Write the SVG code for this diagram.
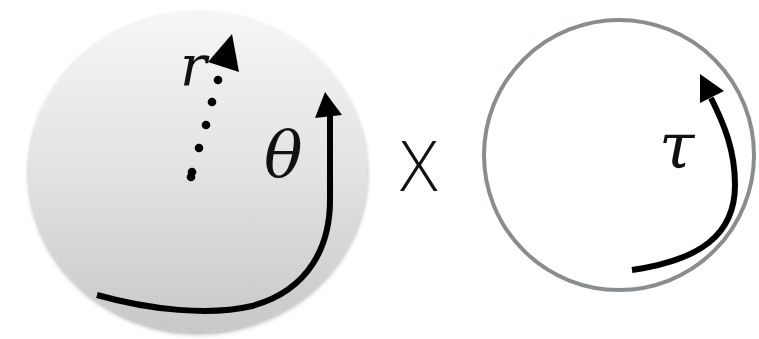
<svg xmlns="http://www.w3.org/2000/svg" width="759" height="339" viewBox="0 0 759 339">
<style>
.math{font-family:'DejaVu Serif',serif;font-style:italic;fill:#111}
.arrow{fill:none;stroke:#000;stroke-width:6;stroke-linecap:butt}
.head{fill:#000}
.dot{fill:#000}
</style>
<defs>
<linearGradient id="ball" x1="0" y1="0" x2="0" y2="1">
<stop offset="0" stop-color="#f6f6f6"/>
<stop offset="0.5" stop-color="#e2e2e2"/>
<stop offset="1" stop-color="#c8c8c8"/>
</linearGradient>
<filter id="shadow" x="-10%" y="-10%" width="120%" height="125%">
<feGaussianBlur in="SourceAlpha" stdDeviation="2.5"/>
<feOffset dy="2" result="b"/>
<feComponentTransfer><feFuncA type="linear" slope="0.35"/></feComponentTransfer>
<feMerge><feMergeNode/><feMergeNode in="SourceGraphic"/></feMerge>
</filter>
</defs>
<rect width="759" height="339" fill="#fff"/>
<g id="disk">
<ellipse cx="198" cy="172" rx="169" ry="160" fill="url(#ball)" filter="url(#shadow)"/>
<text class="math" x="180" y="85" font-size="56">r</text>
<text class="math" x="264" y="176" font-size="64">θ</text>
</g>
<g id="cross">
<text x="400" y="191" font-family="Open Sans, Liberation Sans, sans-serif" font-weight="300" font-size="70" fill="#111">X</text>
</g>
<g id="circle">
<circle cx="619" cy="155" r="135" fill="#fff" stroke="#8a8d90" stroke-width="4"/>
<text class="math" x="659" y="168" font-size="64">τ</text>
</g>
<g id="connectors">
<circle class="dot" cx="218" cy="80" r="4.3"/>
<circle class="dot" cx="212" cy="102" r="4.3"/>
<circle class="dot" cx="206" cy="125" r="4.3"/>
<circle class="dot" cx="199" cy="148" r="4.3"/>
<circle class="dot" cx="192" cy="172" r="4.3"/>
<circle class="dot" cx="191" cy="177" r="4.3"/>
<polygon class="head" points="232,34 208,62 239,72"/>
<path class="arrow" d="M97,295 C150,310 210,316 252,306 C310,290 330,245 330,200 L330,114"/>
<polygon class="head" points="325,92 315,118 342,115"/>
<path class="arrow" d="M632,270 C700,260 735,235 735,185 C735,150 724,124 711,98"/>
<polygon class="head" points="700,74 700,103 724,91"/>
</g>
</svg>
